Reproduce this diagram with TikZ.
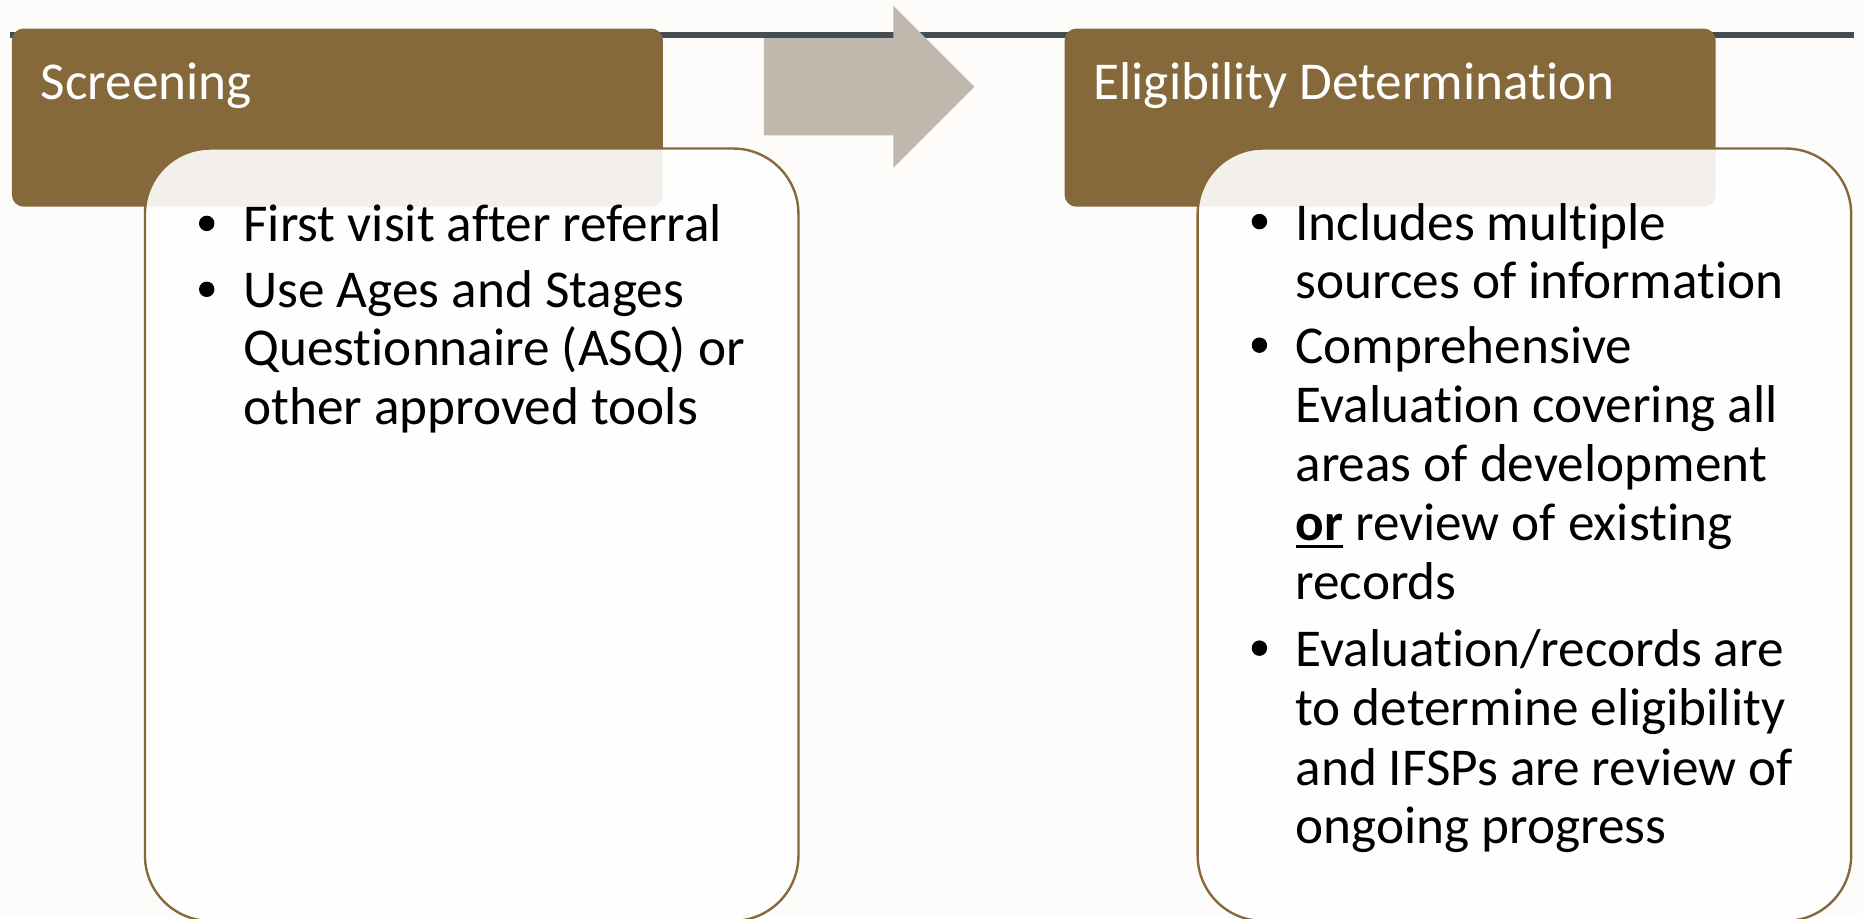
\documentclass[tikz,border=0pt]{standalone}
\usepackage{fontspec}
\setmainfont{Carlito}[Ligatures=NoCommon]
\definecolor{hdrbrown}{HTML}{86693A}
\definecolor{bgc}{HTML}{FDFCFA}
\definecolor{topline}{HTML}{434D52}
\definecolor{arrowc}{HTML}{C1B8AD}
\newcommand\ulor{\setbox0\hbox{\textbf{or}}\rlap{\rule[-3.3pt]{\wd0}{1.6pt}}\box0}
\begin{document}
\begin{tikzpicture}[x=0.5pt,y=-0.5pt,
  body/.style={anchor=base west, inner sep=0pt, font=\fontsize{22.4}{27}\selectfont, text=black},
  hdrtext/.style={anchor=base west, inner sep=0pt, font=\fontsize{22.4}{27}\selectfont, text=white},
  bul/.style={circle, fill=black, inner sep=0pt, minimum size=6.5pt},
  hdrbox/.style={fill=hdrbrown, rounded corners=5pt},
  contentbox/.style={fill=white, fill opacity=0.9, draw=hdrbrown, draw opacity=1, line width=1pt, rounded corners=27.5pt}]
\useasboundingbox (0,0) rectangle (1568,773);
\fill[bgc] (0,0) rectangle (1568,773);
% top line
\coordinate (tl1) at (8,29.5);
\coordinate (tl2) at (1560,29.5);
\draw[topline, line width=2.5pt] (tl1) -- (tl2);
% headers
\fill[hdrbox] (10,24) rectangle (558,174);
\fill[hdrbox] (896,24) rectangle (1444,174);
% arrow
\fill[arrowc] (643,32) -- (752,32) -- (752,5) -- (820,73) -- (752,141) -- (752,114) -- (643,114) -- cycle;
% content boxes
\path[contentbox] (122,125) rectangle (672,775);
\path[contentbox] (1008,125) rectangle (1558,775);
% header texts
\node[hdrtext] (hs) at (34,84) {Screening};
\node[hdrtext] (he) at (920,84) {Eligibility Determination};
% left body
\node[bul] (lb1) at (174,188) {};
\node[bul] (lb2) at (174,243.5) {};
\node[body] (l1) at (204.5,203.5) {First visit after referral};
\node[body] (l2) at (204.5,259) {Use Ages and Stages};
\node[body] (l3) at (204.5,308) {Questionnaire (ASQ) or};
\node[body] (l4) at (204.5,357) {other approved tools};
% right body
\node[bul] (rb1) at (1060,186.5) {};
\node[bul] (rb2) at (1060,290.5) {};
\node[bul] (rb3) at (1060,545.5) {};
\node[body] (r1) at (1090,202) {Includes multiple};
\node[body] (r2) at (1090,251) {sources of information};
\node[body] (r3) at (1090,306) {Comprehensive};
\node[body] (r4) at (1090,355.5) {Evaluation covering all};
\node[body] (r5) at (1090,405) {areas of development};
\node[body] (r6) at (1090,455) {\ulor{} review of existing};
\node[body] (r7) at (1090,504.5) {records};
\node[body] (r8) at (1090,561) {Evaluation/records are};
\node[body] (r9) at (1090,611) {to determine eligibility};
\node[body] (r10) at (1090,661) {and IFSPs are review of};
\node[body] (r11) at (1090,710) {ongoing progress};
\end{tikzpicture}
\end{document}
